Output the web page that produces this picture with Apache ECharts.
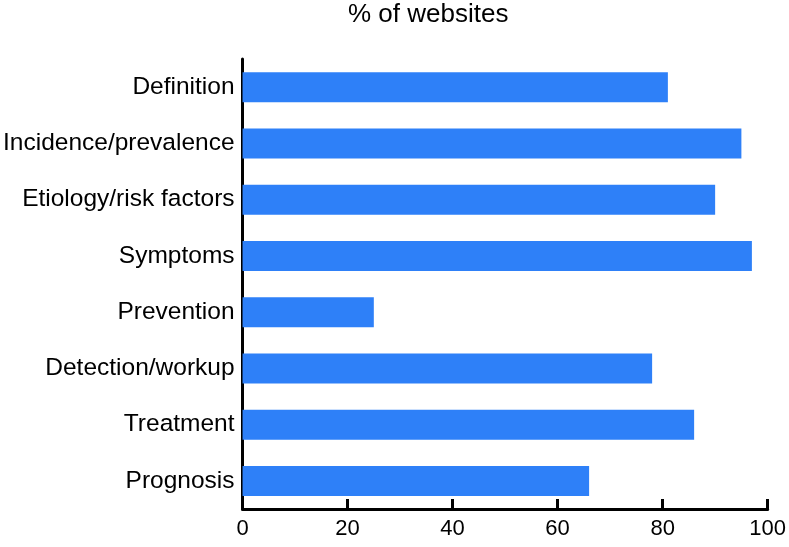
<!DOCTYPE html>
<html>
<head>
<meta charset="utf-8">
<script src="https://cdn.jsdelivr.net/npm/echarts@6/dist/echarts.min.js"></script>
<style>html,body{margin:0;padding:0;background:#fff}#c{width:789px;height:547px}</style>
</head>
<body>
<div id="c"></div>
<script>
const categories = ['Definition','Incidence/prevalence','Etiology/risk factors','Symptoms','Prevention','Detection/workup','Treatment','Prognosis'];
const values = [81, 95, 90, 97, 25, 78, 86, 66];
const xTicks = [0, 20, 40, 60, 80, 100];
const titleText = '% of websites';

const chart = echarts.init(document.getElementById('c'), null, {renderer: 'canvas'});
const font = 'Liberation Sans, Arial, Helvetica, sans-serif';
chart.setOption({
  animation: false,
  backgroundColor: '#ffffff',
  title: {
    text: titleText, left: 348, top: 2, padding: 0,
    textStyle: {fontFamily: font, fontSize: 26, fontWeight: 'normal', color: '#000'}
  },
  grid: {left: 241, right: 20, top: 59, bottom: 38, containLabel: false},
  xAxis: {
    type: 'value', min: xTicks[0], max: xTicks[xTicks.length - 1], interval: 20,
    axisLine: {show: true, lineStyle: {color: '#000', width: 3}},
    axisTick: {show: true, inside: true, length: 10, lineStyle: {color: '#000', width: 3}},
    axisLabel: {fontFamily: font, fontSize: 22, color: '#000', margin: 9},
    splitLine: {show: false}
  },
  yAxis: {
    type: 'category', data: categories, inverse: true,
    axisLine: {show: true, lineStyle: {color: '#000', width: 3}},
    axisTick: {show: false},
    axisLabel: {fontFamily: font, fontSize: 24.5, color: '#000', margin: 8},
    splitLine: {show: false}
  },
  series: [{
    type: 'bar', data: values, barWidth: 30,
    itemStyle: {color: '#2e80f8'}
  }]
});
</script>
</body>
</html>
